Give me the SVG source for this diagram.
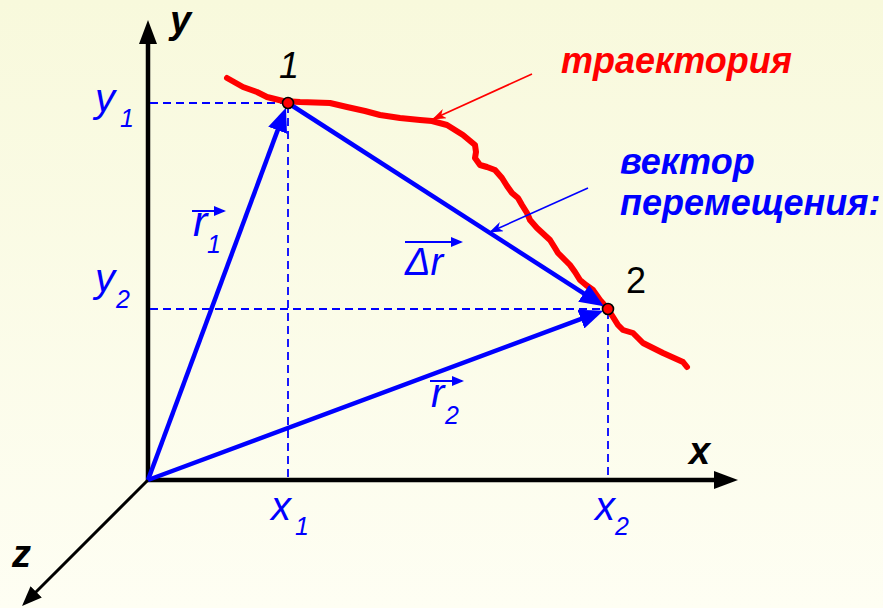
<svg xmlns="http://www.w3.org/2000/svg" width="883" height="608" viewBox="0 0 883 608">
<defs>
<linearGradient id="bg" x1="0" y1="0" x2="0" y2="1">
<stop offset="0" stop-color="#F8F9DC"/>
<stop offset="1" stop-color="#FEFEF3"/>
</linearGradient>
<marker id="axisHead" markerUnits="userSpaceOnUse" viewBox="0 0 24 18" markerWidth="24" markerHeight="18" refX="14" refY="9" orient="auto">
<path d="M0,0 L24,9 L0,18 Z" fill="#000"/>
</marker>
<marker id="zHead" markerUnits="userSpaceOnUse" viewBox="0 0 20 16" markerWidth="20" markerHeight="16" refX="12" refY="8" orient="auto">
<path d="M0,0 L20,8 L0,16 Z" fill="#000"/>
</marker>
<marker id="vecHead" markerUnits="userSpaceOnUse" viewBox="0 0 24 20" markerWidth="24" markerHeight="20" refX="14" refY="10" orient="auto">
<path d="M0,0 L24,10 L0,20 Z" fill="#0000FF"/>
</marker>
<marker id="redPtr" markerUnits="userSpaceOnUse" viewBox="0 0 14 10" markerWidth="14" markerHeight="10" refX="13" refY="5" orient="auto">
<path d="M0,0 L14,5 L0,10 L4,5 Z" fill="#FF0000"/>
</marker>
<marker id="bluePtr" markerUnits="userSpaceOnUse" viewBox="0 0 14 10" markerWidth="14" markerHeight="10" refX="13" refY="5" orient="auto">
<path d="M0,0 L14,5 L0,10 L4,5 Z" fill="#0000FF"/>
</marker>
<marker id="overHead" markerUnits="userSpaceOnUse" viewBox="0 0 12 10" markerWidth="12" markerHeight="10" refX="10" refY="5" orient="auto">
<path d="M0,0 L12,5 L0,10 Z" fill="#0000FF"/>
</marker>
</defs>
<style>
.axis{stroke:#000;stroke-width:4.5;fill:none}
.vec{stroke:#0000FF;stroke-width:4.5;fill:none}
.dash{stroke:#0000FF;stroke-width:1.8;stroke-dasharray:8 5;fill:none}
.traj{stroke:#FF0000;stroke-width:6;fill:none;stroke-linejoin:round;stroke-linecap:round}
.over{stroke:#0000FF;stroke-width:2;fill:none}
.pt{fill:#FF0000;stroke:#000;stroke-width:1.6}
text{font-family:"Liberation Sans",Arial,sans-serif}
.lbl{fill:#0000FF;font-style:italic;font-size:40px}
.sub{fill:#0000FF;font-style:italic;font-size:25px}
.axl{fill:#000;font-style:italic;font-weight:bold;font-size:38px}
.num{fill:#000;font-size:36px}
.note{font-style:italic;font-weight:bold;font-size:36px}
</style>
<rect x="0" y="0" width="883" height="608" fill="url(#bg)"/>

<g id="axes">
<line class="axis" x1="148" y1="482" x2="148" y2="30" marker-end="url(#axisHead)"/>
<line class="axis" x1="146" y1="480" x2="728" y2="480" marker-end="url(#axisHead)"/>
<line class="axis" style="stroke-width:3" x1="148" y1="480" x2="27.7" y2="600.3" marker-end="url(#zHead)"/>
<text class="axl" x="170" y="33">y</text>
<text class="axl" x="689" y="464">x</text>
<text class="axl" x="12" y="567">z</text>
</g>

<g id="projections">
<line class="dash" x1="150" y1="103" x2="286" y2="103"/>
<line class="dash" x1="288" y1="105" x2="288" y2="478"/>
<line class="dash" x1="150" y1="309" x2="606" y2="309"/>
<line class="dash" x1="608" y1="311" x2="608" y2="478"/>
<text class="lbl" x="95" y="112">y</text><text class="sub" x="120" y="127">1</text>
<text class="lbl" x="95" y="292">y</text><text class="sub" x="116" y="308">2</text>
<text class="lbl" x="271" y="520">x</text><text class="sub" x="295" y="535">1</text>
<text class="lbl" x="595" y="520">x</text><text class="sub" x="615" y="535">2</text>
</g>

<g id="trajectory">
<polyline class="traj" points="227,78 243,87 257,92 267,97 283,101 300,102 330,103 347,107 365,111 380,115 400,118 420,120 432,121 447,125 463,135 475,145 476,152 475,158 480,165 487,167 495,170 502,178 507,186 512,193 518,198 522,205 527,213 530,220 537,228 550,240 555,248 558,253 565,260 570,265 575,272 580,280 586,285 593,290 600,300 608,309 613,317 618,325 623,330 633,333 643,343 663,353 683,362 687,367"/>
</g>

<g id="connectors">
<line class="vec" x1="148" y1="480" x2="282.5" y2="117.1" marker-end="url(#vecHead)"/>
<line class="vec" x1="288" y1="103" x2="595.4" y2="300.9" marker-end="url(#vecHead)"/>
<line class="vec" x1="148" y1="480" x2="594" y2="314.2" marker-end="url(#vecHead)"/>
<line stroke="#FF0000" stroke-width="1.6" x1="532" y1="74" x2="433" y2="119" marker-end="url(#redPtr)"/>
<line stroke="#0000FF" stroke-width="1.6" x1="588" y1="188" x2="490" y2="232" marker-end="url(#bluePtr)"/>
</g>

<g id="point1">
<circle class="pt" cx="288" cy="103" r="5.5"/>
<text class="num" style="font-style:italic" x="279" y="78">1</text>
</g>
<g id="point2">
<circle class="pt" cx="608" cy="309" r="5.5"/>
<text class="num" x="626" y="293">2</text>
</g>

<g id="label-r1">
<line class="over" x1="192" y1="211" x2="224" y2="211" marker-end="url(#overHead)"/>
<text class="lbl" style="font-size:43px" x="193" y="236">r</text><text class="sub" x="207" y="253">1</text>
</g>
<g id="label-dr">
<line class="over" x1="405" y1="242" x2="461" y2="242" marker-end="url(#overHead)"/>
<text class="lbl" style="font-size:38px" x="405" y="275">Δr</text>
</g>
<g id="label-r2">
<line class="over" x1="430" y1="381" x2="462" y2="381" marker-end="url(#overHead)"/>
<text class="lbl" x="431" y="407">r</text><text class="sub" x="445" y="424">2</text>
</g>

<g id="note-trajectory">
<text class="note" fill="#FF0000" x="561" y="73">траектория</text>
</g>
<g id="note-displacement">
<text class="note" fill="#0000FF" x="620" y="174">вектор</text>
<text class="note" fill="#0000FF" x="620" y="215">перемещения:</text>
</g>
</svg>
